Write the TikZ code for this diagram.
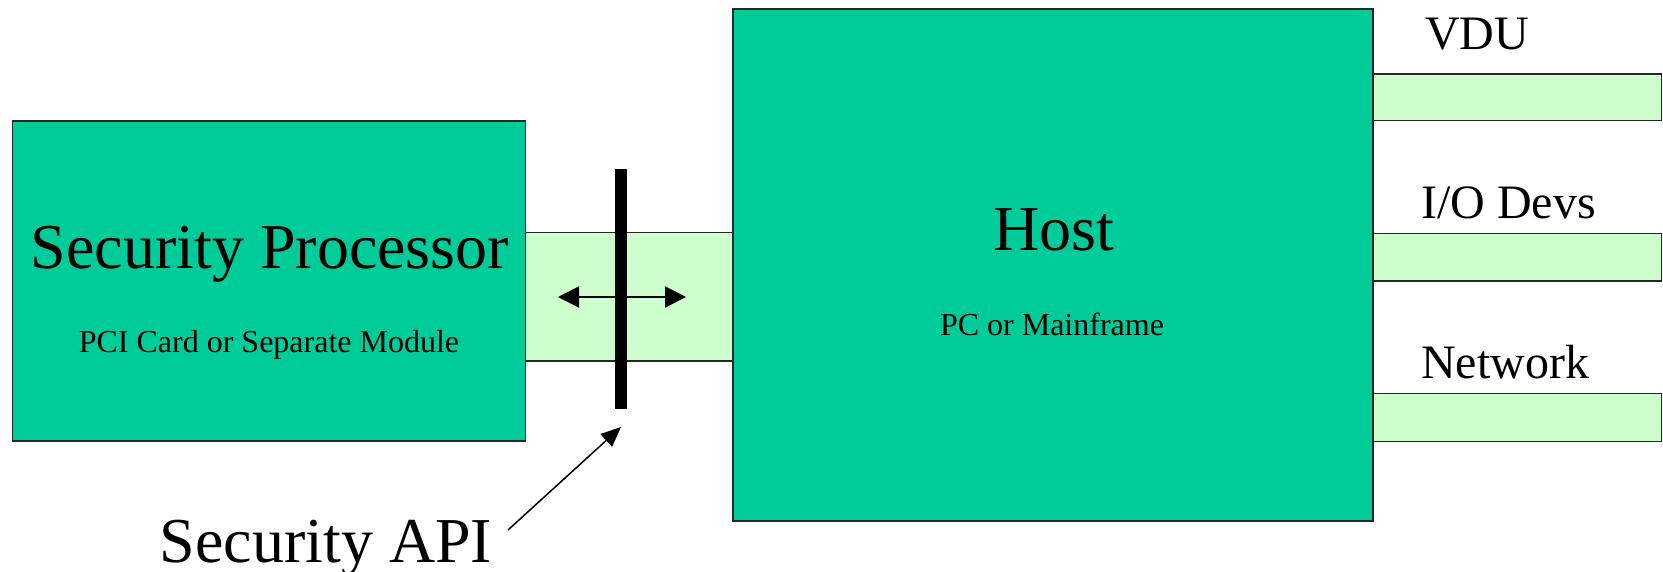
\documentclass[tikz,border=0pt]{standalone}
\usepackage{fontspec}
\setmainfont{Liberation Serif}
\usetikzlibrary{arrows.meta}
\definecolor{boxgreen}{RGB}{0,204,153}
\definecolor{linkgreen}{RGB}{204,255,204}
\begin{document}
\begin{tikzpicture}[x=1pt,y=-1pt,
  unit/.style={draw=black!85, line width=1.3pt, fill=boxgreen, inner sep=0pt, outer sep=0pt},
  link/.style={draw=black!85, line width=1.3pt, fill=linkgreen, inner sep=0pt, outer sep=0pt},
  big/.style={font=\fontsize{64}{70}\selectfont, inner sep=0pt, anchor=base},
  small/.style={font=\fontsize{32}{36}\selectfont, inner sep=0pt, anchor=base},
  port/.style={font=\fontsize{48}{52}\selectfont, inner sep=0pt, anchor=base west},
  bihead/.tip={Triangle[length=21pt,width=21pt]},
]
\path[use as bounding box] (0,0) rectangle (1663,572);

% channel between the two units
\node[link, minimum width=207.5pt, minimum height=128.3pt] (channel) at (629.25,296.85) {};

% the two units
\node[unit, minimum width=512.8pt, minimum height=320pt] (sp) at (269.1,281) {};
\node[unit, minimum width=640pt, minimum height=512pt] (host) at (1053,265) {};

% ports on the host
\node[link, minimum width=288.5pt, minimum height=46.7pt] (vdu) at (1517.25,97.35) {};
\node[link, minimum width=288.5pt, minimum height=47.7pt] (io) at (1517.25,257.15) {};
\node[link, minimum width=288.5pt, minimum height=48.4pt] (net) at (1517.25,417.5) {};

% the API barrier
\node[fill=black, minimum width=12pt, minimum height=240pt, inner sep=0pt, outer sep=0pt] (bar) at (621,289) {};

% labels
\node[big] (sptitle) at (270,269) {Security Processor};
\node[small] (spsub) at (269,352) {PCI Card or Separate Module};
\node[big] (hosttitle) at (1054,251) {Host};
\node[small] (hostsub) at (1052,335) {PC or Mainframe};
\node[port] (vdulabel) at (1425,50) {VDU};
\node[port] (iolabel) at (1421,218.5) {I/O Devs};
\node[port] (netlabel) at (1421,378.5) {Network};
\node[big] (apilabel) at (326,562) {Security API};

% two-way traffic across the barrier
\coordinate (bileft) at (558,297);
\coordinate (biright) at (686,297);
\draw[line width=2pt, bihead-bihead] (bileft) -- (biright);

% pointer to the barrier
\coordinate (apitail) at (508,530);
\coordinate (apitip) at ([yshift=-18pt]bar.south);
\draw[line width=1.5pt, -{Triangle[length=20pt,width=17pt]}] (apitail) -- (apitip);
\end{tikzpicture}
\end{document}
